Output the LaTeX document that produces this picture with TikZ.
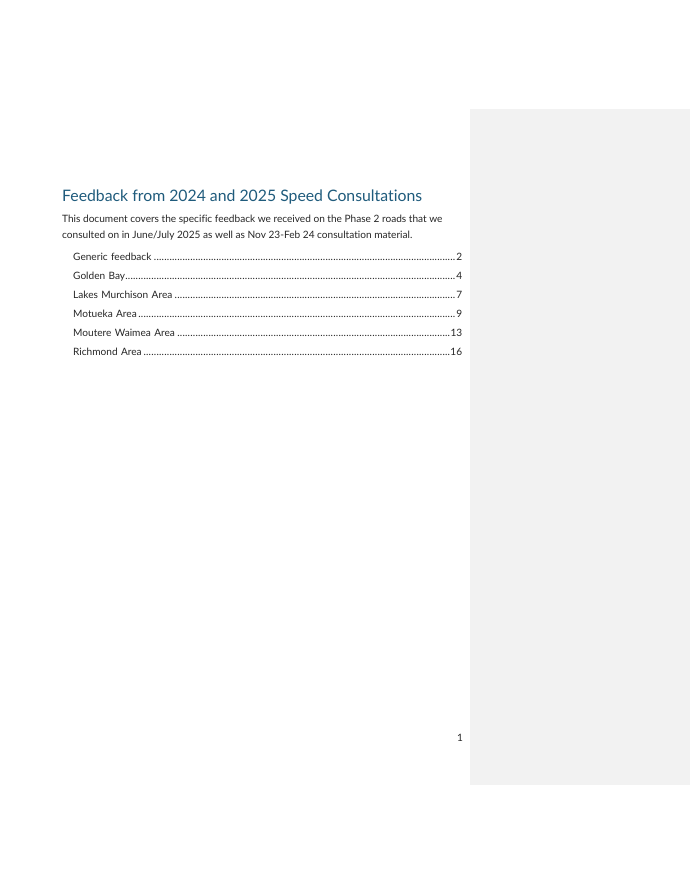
\documentclass[tikz,border=0pt]{standalone}
\usepackage{fontspec}
\setmainfont{Lato}[Ligatures=NoCommon]
\usetikzlibrary{positioning}
\definecolor{headblue}{HTML}{1F5B7C}
\definecolor{bodyink}{HTML}{262626}
\definecolor{panelgrey}{HTML}{F2F2F2}
\newcommand{\tocdots}{\leaders\hbox to 2.6pt{\hss.\hss}\hfill}
\begin{document}
\begin{tikzpicture}[x=1pt,y=-1pt]
\tikzstyle{title}=[anchor=base west,inner sep=0pt,text=headblue,font=\fontsize{15.8}{19}\selectfont]
\tikzstyle{para}=[anchor=base west,inner sep=0pt,text=bodyink,align=left,font=\fontsize{10.1}{16}\selectfont]
\tikzstyle{tocline}=[anchor=base west,inner sep=0pt,text=bodyink,text width=389pt,font=\fontsize{10.1}{12}\selectfont]
\useasboundingbox (0,0) rectangle (690,894);
\fill[white] (0,0) rectangle (690,894);
\fill[panelgrey] (470,109) rectangle (690,785);
\node[title] (heading) at (62,201) {Feedback from 2024 and 2025 Speed Consultations};
\node[para] (intro) at (62,238) {This document covers the specific feedback we received on the Phase 2 roads that we\\consulted on in June/July 2025 as well as Nov 23-Feb 24 consultation material.};
\foreach \name/\pg [count=\i] in {Generic feedback/2,Golden Bay/4,Lakes Murchison Area/7,Motueka Area/9,Moutere Waimea Area/13,Richmond Area/16}
  \node[tocline] (toc\i) at (73,241+19*\i) {\name\tocdots\pg};
\node[para] (pageno) at (457,741) {1};
\end{tikzpicture}
\end{document}
